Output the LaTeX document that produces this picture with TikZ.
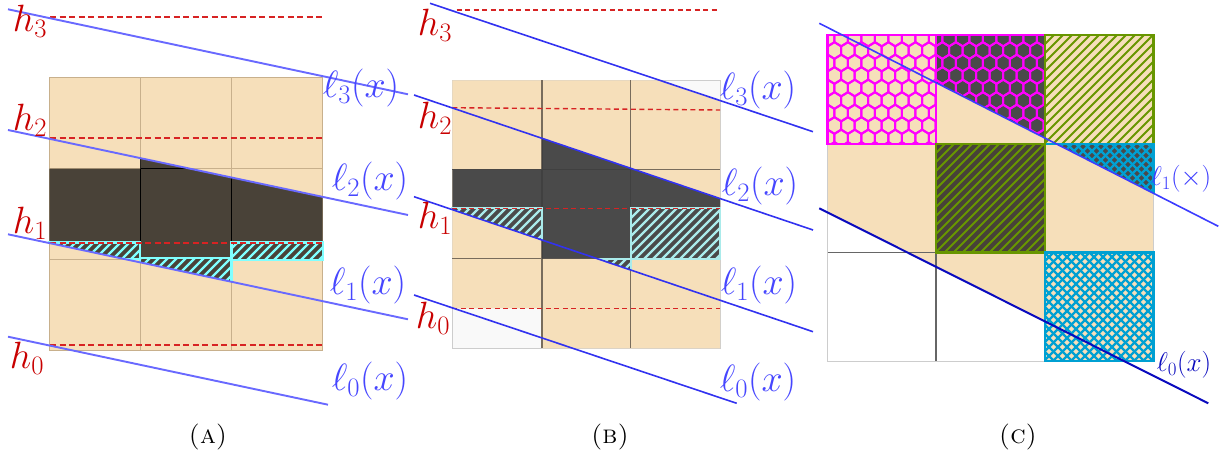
\documentclass[tikz,border=0pt]{standalone}
\DeclareFontFamily{OML}{cmm}{\skewchar\font'177}
\DeclareFontShape{OML}{cmm}{m}{it}{<-6>cmmi5<6-7>cmmi6<7-8>cmmi7<8-9>cmmi8<9-10>cmmi9<10-12>cmmi10<12->cmmi12}{}
\DeclareFontFamily{OT1}{cmr}{\hyphenchar\font45 }
\DeclareFontShape{OT1}{cmr}{m}{n}{<-6>cmr5<6-7>cmr6<7-8>cmr7<8-9>cmr8<9-10>cmr9<10-12>cmr10<12-17>cmr12<17->cmr17}{}
\DeclareFontFamily{OMS}{cmsy}{\skewchar\font'60}
\DeclareFontShape{OMS}{cmsy}{m}{n}{<-6>cmsy5<6-7>cmsy6<7-8>cmsy7<8-9>cmsy8<9-10>cmsy9<10->cmsy10}{}
\definecolor{tanc}{RGB}{246,223,186}
\definecolor{gridA}{RGB}{200,176,140}
\definecolor{gridB}{RGB}{120,108,92}
\definecolor{darkA}{RGB}{73,66,56}
\definecolor{darkB}{RGB}{74,74,74}
\definecolor{darkC}{RGB}{72,66,56}
\definecolor{cyanA}{RGB}{128,255,255}
\definecolor{cyanB}{RGB}{170,235,235}
\definecolor{cyanC}{RGB}{0,160,210}
\definecolor{hred}{RGB}{200,0,0}
\definecolor{dred}{RGB}{215,35,35}
\definecolor{blueA}{RGB}{105,105,255}
\definecolor{blueB}{RGB}{50,50,240}
\definecolor{blueCa}{RGB}{60,60,255}
\definecolor{blueCb}{RGB}{10,10,190}
\definecolor{labA}{RGB}{70,70,255}
\definecolor{magC}{RGB}{255,0,255}
\definecolor{greenC}{RGB}{104,150,0}
\definecolor{lightg}{RGB}{249,249,249}
\definecolor{borderg}{RGB}{205,205,205}
% "/" lines (x+y=c in y-down coords) over box #1,#2 -- #3,#4
\newcommand\hatchNE[5]{%
  \pgfmathtruncatemacro\hcmin{#1+#2-9}\pgfmathtruncatemacro\hcmax{#3+#4+9}%
  \pgfmathtruncatemacro\hcnext{\hcmin+9}%
  \foreach \c in {\hcmin,\hcnext,...,\hcmax}{\draw[#5] ({\c-#2+2},{#2-2}) -- ({\c-#4-2},{#4+2});}}
% "\" lines (x-y=c)
\newcommand\hatchNW[5]{%
  \pgfmathtruncatemacro\hcmin{#1-#4-9}\pgfmathtruncatemacro\hcmax{#3-#2+9}%
  \pgfmathtruncatemacro\hcnext{\hcmin+9}%
  \foreach \c in {\hcmin,\hcnext,...,\hcmax}{\draw[#5] ({\c+#2-2},{#2-2}) -- ({\c+#4+2},{#4+2});}}
\begin{document}
\begin{tikzpicture}[x=1pt,y=-1pt,
  hlab/.style={text=hred,font=\fontsize{38}{40}\selectfont,inner sep=0pt},
  llab/.style={text=labA,font=\fontsize{38}{40}\selectfont,inner sep=0pt},
  llabC/.style={font=\fontsize{27}{30}\selectfont,inner sep=0pt},
  caplab/.style={font=\fontsize{26}{30}\selectfont,inner sep=0pt},
  reddash/.style={draw=dred,line width=1.6pt,dash pattern=on 6pt off 3.5pt},
  stripeA/.style={cyanA,line width=2.4pt},
  stripeB/.style={cyanB,line width=2.4pt},
  stripeG/.style={greenC,line width=1.9pt},
  stripeC/.style={cyanC,line width=2.2pt},
]
\useasboundingbox (0,0) rectangle (1222,454);

%================ PANEL A ================
\fill[tanc] (49.3,77.3) rectangle (322.7,350.7);
\draw[gridA,line width=1pt] (49.3,77.3) rectangle (322.7,350.7);
\draw[gridA,line width=1pt] (140.3,77.3) -- (140.3,350.7) (231.5,77.3) -- (231.5,350.7)
  (49.3,169) -- (322.7,169) (49.3,259.3) -- (322.7,259.3);
\fill[darkA] (49.3,169) -- (140.3,169) -- (140.3,158.1) -- (322.7,196.9) -- (322.7,242.5)
  -- (231.5,242.5) -- (231.5,258.3) -- (140.3,258.3) -- (140.3,242.5) -- (49.3,242.5) -- cycle;
\begin{scope}
  \clip (49.3,169) -- (140.3,169) -- (140.3,158.1) -- (322.7,196.9) -- (322.7,242.5)
  -- (231.5,242.5) -- (231.5,258.3) -- (140.3,258.3) -- (140.3,242.5) -- (49.3,242.5) -- cycle;
  \draw[black,line width=1pt] (140.3,150) -- (140.3,260) (231.5,150) -- (231.5,245) (49.3,169) -- (322.7,169);
\end{scope}
\begin{scope}
  \clip (0,232.6) -- (420,321.85) -- (420,0) -- (0,0) -- cycle;
  \fill[darkA] (49.3,242.5) rectangle (140.3,259.3) (140.3,258.3) rectangle (231.5,300) (231.5,242.5) rectangle (322.7,260);
  \begin{scope}
    \clip (49.3,242.5) rectangle (140.3,259.3) (140.3,258.3) rectangle (231.5,300) (231.5,242.5) rectangle (322.7,260);
    \hatchNE{49}{242}{323}{300}{stripeA}
  \end{scope}
  \draw[cyanA,line width=2.2pt] (49.3,242.5) rectangle (140.3,259.3) (140.3,258.3) rectangle (231.5,300) (231.5,242.5) rectangle (322.7,260);
\end{scope}
\draw[reddash] (50,17.3) -- (322,17.3);
\draw[reddash] (50,138) -- (322,138);
\draw[reddash] (50,243) -- (322,243);
\draw[reddash] (50,345) -- (322,345);
\coordinate (A3a) at (8,9.3);   \coordinate (A3b) at (408,94.3);
\coordinate (A2a) at (8,130);   \coordinate (A2b) at (408,215);
\coordinate (A1a) at (8,234.3); \coordinate (A1b) at (408,319.3);
\coordinate (A0a) at (8,336.7); \coordinate (A0b) at (328,404.7);
\foreach \n in {3,2,1,0}{\draw[blueA,line width=1.9pt] (A\n a) -- (A\n b);}
\node[hlab] (Ah3) at (30,21) {$h_3$};
\node[hlab] (Ah2) at (30,120) {$h_2$};
\node[hlab] (Ah1) at (30,223) {$h_1$};
\node[hlab] (Ah0) at (27,358) {$h_0$};
\node[llab] (Al3) at (361,88) {$\ell_3(x)$};
\node[llab] (Al2) at (370,181) {$\ell_2(x)$};
\node[llab] (Al1) at (368,285) {$\ell_1(x)$};
\node[llab] (Al0) at (370,381) {$\ell_0(x)$};
\node[caplab] (capA) at (208,437) {\textsc{(a)}};

%================ PANEL B ================
\fill[lightg,draw=borderg,line width=1pt] (452.3,80.3) rectangle (720,348.3);
\fill[tanc] (452.3,80.3) -- (660,80.3) -- (720,100.5) -- (720,348.3) -- (542,348.3)
  -- (542,308.3) -- (452.3,308.3) -- cycle;
\draw[gridB,line width=1.5pt] (542,80.3) -- (542,348.3) (630.7,80.3) -- (630.7,348.3)
  (452.3,169.3) -- (720,169.3) (452.3,258.7) -- (720,258.7);
\fill[darkB] (452.3,169.3) -- (542,169.3) -- (542,138.3) -- (720,198.5) -- (720,208.3)
  -- (630.7,208.3) -- (630.7,258.7) -- (542,258.7) -- (542,208.3) -- (452.3,208.3) -- cycle;
\begin{scope}
  \clip (452.3,169.3) -- (542,169.3) -- (542,138.3) -- (720,198.5) -- (720,208.3)
  -- (630.7,208.3) -- (630.7,258.7) -- (542,258.7) -- (542,208.3) -- (452.3,208.3) -- cycle;
  \draw[black!75,line width=1.5pt] (542,130) -- (542,260) (630.7,130) -- (630.7,210) (452.3,169.3) -- (720,169.3);
\end{scope}
\begin{scope}
  \clip (400,191.97) -- (830,337.3) -- (830,0) -- (400,0) -- cycle;
  \fill[darkB] (452.3,208.3) rectangle (542,258.7) (542,258.7) rectangle (630.7,300) (630.7,208.3) rectangle (720,258.7);
  \begin{scope}
    \clip (452.3,208.3) rectangle (542,258.7) (542,258.7) rectangle (630.7,300) (630.7,208.3) rectangle (720,258.7);
    \hatchNE{452}{208}{720}{300}{stripeB}
  \end{scope}
  \draw[cyanB,line width=2.2pt] (452.3,208.3) rectangle (542,258.7) (542,258.7) rectangle (630.7,300) (630.7,208.3) rectangle (720,258.7);
\end{scope}
\begin{scope}[dash pattern=on 5pt off 3.5pt]
\draw[draw=dred,line width=1.4pt] (456.7,10) -- (718,10);
\draw[draw=dred,line width=1.4pt] (452.3,107.7) -- (720,110);
\draw[draw=dred,line width=1.4pt] (452.3,208.3) -- (720,208.3);
\draw[draw=dred,line width=1.4pt] (452.3,308.3) -- (720,308.3);
\end{scope}
\coordinate (B3a) at (430,3.3);   \coordinate (B3b) at (813,131.7);
\coordinate (B2a) at (414,95);    \coordinate (B2b) at (813,230);
\coordinate (B1a) at (414,196.7); \coordinate (B1b) at (813,331.7);
\coordinate (B0a) at (414,295);   \coordinate (B0b) at (736.7,403.3);
\foreach \n in {3,2,1,0}{\draw[blueB,line width=1.6pt] (B\n a) -- (B\n b);}
\node[hlab] (Bh3) at (435,25) {$h_3$};
\node[hlab] (Bh2) at (435,118) {$h_2$};
\node[hlab] (Bh1) at (435,218) {$h_1$};
\node[hlab] (Bh0) at (433,318) {$h_0$};
\node[llab] (Bl3) at (758,90) {$\ell_3(x)$};
\node[llab] (Bl2) at (760,186) {$\ell_2(x)$};
\node[llab] (Bl1) at (759,285) {$\ell_1(x)$};
\node[llab] (Bl0) at (758,382) {$\ell_0(x)$};
\node[caplab] (capB) at (610,437) {\textsc{(b)}};

%================ PANEL C ================
\fill[tanc] (827.7,35) -- (1153.3,35) -- (1153.3,361) -- (1123.9,361) -- (827.7,212.5) -- cycle;
\draw[borderg,line width=1pt] (827.7,35) rectangle (1153.3,361);
\draw[black!60,line width=1.2pt] (827.7,252.3) -- (936,252.3) (936,252.3) -- (936,361) (1045,252.3) -- (1045,361);
% top-middle dark part
\fill[darkB] (936,35) -- (1045,35) -- (1045,138.13) -- (936,82.68) -- cycle;
% hexagons
\begin{scope}
  \clip (827.7,35) -- (1045,35) -- (1045,138.13) -- (936,82.68) -- (936,144) -- (827.7,144) -- cycle;
  \foreach \i in {-1,...,9}{
    \foreach \j in {-1,...,17}{
      \pgfmathsetmacro\cx{827.7+\j*13.5+mod(\i+2,2)*6.75}
      \pgfmathsetmacro\cy{38+\i*12.5}
      \draw[magC,line width=2pt] ({\cx},{\cy-8.33}) -- ({\cx+6.75},{\cy-4.17}) -- ({\cx+6.75},{\cy+4.17})
        -- ({\cx},{\cy+8.33}) -- ({\cx-6.75},{\cy+4.17}) -- ({\cx-6.75},{\cy-4.17}) -- cycle;
    }
  }
\end{scope}
\draw[magC,line width=2.6pt] (827.7,35) rectangle (936,144);
\draw[magC,line width=2.6pt] (936,82.68) -- (936,35) -- (1045,35) -- (1045,138.13);
% top-right green hatch on tan
\begin{scope}
  \clip (1045,35) rectangle (1153.3,144);
  \hatchNE{1045}{35}{1154}{144}{stripeG}
\end{scope}
\draw[greenC,line width=2.4pt] (1045,35) rectangle (1153.3,144);
% middle-middle green hatch on dark
\fill[darkC] (936,144) rectangle (1045,252.3);
\begin{scope}
  \clip (936,144) rectangle (1045,252.3);
  \hatchNE{936}{144}{1045}{253}{stripeG}
\end{scope}
\draw[greenC,line width=2.4pt] (936,144) rectangle (1045,252.3);
% middle-right triangle
\fill[darkB] (1056.5,144) -- (1153.3,144) -- (1153.3,193.24) -- cycle;
\begin{scope}
  \clip (1056.5,144) -- (1153.3,144) -- (1153.3,193.24) -- cycle;
  \hatchNE{1045}{144}{1154}{194}{stripeC}
  \hatchNW{1045}{144}{1154}{194}{stripeC}
\end{scope}
\draw[cyanC,line width=2.4pt] (1046.2,144) -- (1153.3,144) -- (1153.3,193.24);
% bottom-right crosshatch on tan
\fill[tanc] (1045,252.3) rectangle (1153.3,361);
\begin{scope}
  \clip (1045,252.3) rectangle (1153.3,361);
  \hatchNE{1045}{252}{1154}{361}{stripeC}
  \hatchNW{1045}{252}{1154}{361}{stripeC}
\end{scope}
\draw[cyanC,line width=2.4pt] (1045,252.3) rectangle (1153.3,361);
% lines
\coordinate (C1a) at (819.3,23.3); \coordinate (C1b) at (1218.3,226.3);
\coordinate (C0a) at (819.3,208.3); \coordinate (C0b) at (1208.3,403.3);
\draw[blueCa,line width=1.6pt] (C1a) -- (C1b);
\draw[blueCb,line width=2pt] (C0a) -- (C0b);
\node[llabC,text=blueCa] (Cl1) at (1181,179) {$\ell_1(\times)$};
\node[llabC,text=blueCb] (Cl0) at (1184,365) {$\ell_0(x)$};
\node[caplab] (capC) at (1018,437) {\textsc{(c)}};
\end{tikzpicture}
\end{document}
